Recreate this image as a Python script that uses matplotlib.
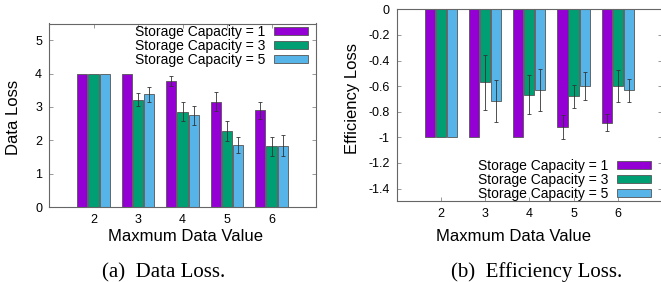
import matplotlib
matplotlib.use("Agg")
import matplotlib.pyplot as plt
import numpy as np
from matplotlib.patches import Rectangle

# max data value on the x axis
max_values = [2, 3, 4, 5, 6]
capacities = [1, 3, 5]

# (a) data loss, one list per storage capacity
data_loss_c1 = [4.0, 4.0, 3.79, 3.16, 2.90]
data_loss_c3 = [4.0, 3.22, 2.86, 2.28, 1.82]
data_loss_c5 = [4.0, 3.38, 2.75, 1.86, 1.84]
data_err_c1 = [0.0, 0.0, 0.15, 0.29, 0.25]
data_err_c3 = [0.0, 0.20, 0.29, 0.30, 0.28]
data_err_c5 = [0.0, 0.23, 0.28, 0.24, 0.31]

# (b) efficiency loss
eff_loss_c1 = [-1.0, -1.0, -1.0, -0.92, -0.887]
eff_loss_c3 = [-1.0, -0.57, -0.668, -0.68, -0.60]
eff_loss_c5 = [-1.0, -0.718, -0.632, -0.60, -0.632]
eff_err_c1 = [0.0, 0.0, 0.0, 0.094, 0.066]
eff_err_c3 = [0.0, 0.215, 0.152, 0.09, 0.122]
eff_err_c5 = [0.0, 0.164, 0.164, 0.11, 0.09]

data_yticks = [0, 1, 2, 3, 4, 5]
eff_yticks = [0, -0.2, -0.4, -0.6, -0.8, -1.0, -1.2, -1.4]
eff_yticklabels = ["0", "-0.2", "-0.4", "-0.6", "-0.8", "-1", "-1.2", "-1.4"]

colors = ["#9400D3", "#009E73", "#56B4E9"]
EDGE = "#555555"

plt.rcParams["font.family"] = ["Liberation Sans", "DejaVu Sans"]
plt.rcParams["axes.unicode_minus"] = False

W, H = 661, 282
fig = plt.figure(figsize=(W / 100, H / 100), dpi=100)


def px_axes(left, top, right, bottom):
    return fig.add_axes([left / W, 1 - bottom / H, (right - left) / W, (bottom - top) / H])


def draw_bars(ax, series, errors):
    x = np.array(max_values, dtype=float)
    offsets = [-0.25, 0.0, 0.25]
    for vals, errs, off, col in zip(series, errors, offsets, colors):
        ax.bar(x + off, vals, width=0.23, color=col, edgecolor=EDGE, linewidth=0.6, zorder=2)
        vals = np.array(vals)
        errs = np.array(errs)
        keep = errs > 0
        ax.errorbar(x[keep] + off, vals[keep], yerr=errs[keep], fmt="none",
                    ecolor="#333333", elinewidth=0.6, capsize=1.5, capthick=0.6, zorder=3)


def style(ax):
    for s in ax.spines.values():
        s.set_color("#666666")
        s.set_linewidth(0.8)
    ax.tick_params(direction="in", length=3, width=0.6, color="#888888",
                   top=True, right=True, labelsize=9, pad=5)
    ax.set_xlim(1, 7)
    ax.set_xticks(max_values)


def legend(ax, anchor, loc):
    handles = [Rectangle((0, 0), 1, 1, facecolor=c, edgecolor=EDGE, linewidth=0.6) for c in colors]
    labels = [f"Storage Capacity = {c}" for c in capacities]
    ax.legend(handles, labels, loc=loc, bbox_to_anchor=anchor, bbox_transform=fig.transFigure,
              frameon=False, markerfirst=False, fontsize=10, handlelength=2.45,
              handleheight=0.53, handletextpad=0.65, labelspacing=0.0,
              borderpad=0, borderaxespad=0)


# (a) data loss
ax1 = px_axes(49, 23.5, 316, 207)
draw_bars(ax1, [data_loss_c1, data_loss_c3, data_loss_c5],
          [data_err_c1, data_err_c3, data_err_c5])
style(ax1)
ax1.set_ylim(0, 5.5)
ax1.set_yticks(data_yticks)
legend(ax1, (308 / W, 1 - 25 / H), "upper right")

# (b) efficiency loss
ax2 = px_axes(396.7, 9.3, 662, 201.3)
draw_bars(ax2, [eff_loss_c1, eff_loss_c3, eff_loss_c5],
          [eff_err_c1, eff_err_c3, eff_err_c5])
style(ax2)
ax2.set_ylim(-1.5, 0)
ax2.set_yticks(eff_yticks)
ax2.set_yticklabels(eff_yticklabels)
legend(ax2, (651 / W, 1 - 201 / H), "lower right")

# axis labels and captions placed in pixel terms
fig.text(14 / W, 1 - 117.5 / H, "Data Loss", rotation=90, ha="center", va="center", fontsize=12)
fig.text(352.5 / W, 1 - 99 / H, "Efficiency Loss", rotation=90, ha="center", va="center", fontsize=12)
fig.text(185.5 / W, 1 - 241 / H, "Maxmum Data Value", ha="center", va="baseline", fontsize=12)
fig.text(514 / W, 1 - 241 / H, "Maxmum Data Value", ha="center", va="baseline", fontsize=12)
fig.text(164 / W, 1 - 277 / H, "(a)  Data Loss.", ha="center", va="baseline",
         fontsize=15, family=["Liberation Serif", "DejaVu Serif"])
fig.text(537 / W, 1 - 277 / H, "(b)  Efficiency Loss.", ha="center", va="baseline",
         fontsize=15, family=["Liberation Serif", "DejaVu Serif"])

fig.savefig("out.png", dpi=100)
